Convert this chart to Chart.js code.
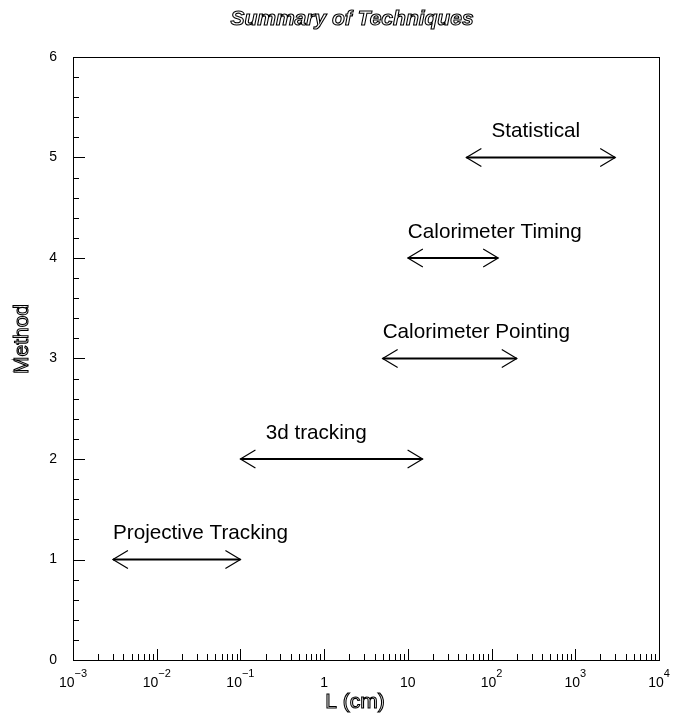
<!DOCTYPE html>
<html>
<head>
<meta charset="utf-8">
<script src="https://cdn.jsdelivr.net/npm/chart.js@4.4.1/dist/chart.umd.min.js"></script>
<style>
  html, body { margin: 0; padding: 0; background: #fff; }
</style>
</head>
<body>
<canvas id="techniques" width="674" height="714"></canvas>
<script>
// data
const methods = ["Projective Tracking", "3d tracking", "Calorimeter Pointing", "Calorimeter Timing", "Statistical"];
const methodLevel = [1, 2, 3, 4, 5];
const rangeLow = [0.003, 0.1, 5, 10, 50];
const rangeHigh = [0.1, 15, 200, 120, 3000];
const labelStart = [0.003, 0.2, 5, 10, 100];

const xDecades = [-3, -2, -1, 0, 1, 2, 3, 4];
const yTicks = [0, 1, 2, 3, 4, 5, 6];

const datasets = methods.map(function (name, i) {
    return {
        label: name,
        data: [{ x: rangeLow[i], y: methodLevel[i] }, { x: rangeHigh[i], y: methodLevel[i] }],
        showLine: true,
        borderColor: "#000",
        borderWidth: 2,
        pointRadius: 0
    };
});

function hollowText(ctx, txt, x, y) {
    ctx.fillStyle = "#fff";
    ctx.fillText(txt, x, y);
    ctx.strokeStyle = "#000";
    ctx.lineWidth = 1.1;
    ctx.strokeText(txt, x, y);
}

const rootStyle = {
    id: "rootStyle",
    afterDraw: function (chart) {
        const ctx = chart.ctx;
        const a = chart.chartArea;
        const xs = chart.scales.x;
        const ys = chart.scales.y;
        ctx.save();

        // frame
        ctx.strokeStyle = "#000";
        ctx.lineWidth = 1;
        ctx.strokeRect(Math.round(a.left) + 0.5, Math.round(a.top) + 0.5,
            Math.round(a.right - a.left), Math.round(a.bottom - a.top));

        // y ticks, inward
        ctx.beginPath();
        for (let v = 0; v <= 6.001; v += 0.2) {
            const py = Math.round(ys.getPixelForValue(v)) + 0.5;
            const major = Math.abs(v - Math.round(v)) < 0.01;
            ctx.moveTo(a.left, py);
            ctx.lineTo(a.left + (major ? 12 : 6), py);
        }
        // x ticks, inward
        for (let d = -3; d < 4; d++) {
            for (let m = 1; m <= 9; m++) {
                const px = Math.round(xs.getPixelForValue(m * Math.pow(10, d))) + 0.5;
                ctx.moveTo(px, a.bottom);
                ctx.lineTo(px, a.bottom - (m === 1 ? 11 : 6));
            }
        }
        ctx.moveTo(Math.round(a.right) + 0.5, a.bottom);
        ctx.lineTo(Math.round(a.right) + 0.5, a.bottom - 11);
        ctx.stroke();

        // y tick labels
        ctx.fillStyle = "#000";
        ctx.font = "14px 'Liberation Sans', Arial, sans-serif";
        ctx.textAlign = "right";
        ctx.textBaseline = "middle";
        yTicks.forEach(function (v) {
            ctx.fillText(String(v), a.left - 16, ys.getPixelForValue(v));
        });

        // x tick labels
        ctx.textBaseline = "alphabetic";
        xDecades.forEach(function (e) {
            const px = xs.getPixelForValue(Math.pow(10, e));
            ctx.font = "14px 'Liberation Sans', Arial, sans-serif";
            if (e === 0 || e === 1) {
                ctx.textAlign = "center";
                ctx.fillText(e === 0 ? "1" : "10", px, a.bottom + 27);
                return;
            }
            const sup = e < 0 ? "\u2212" + (-e) : String(e);
            const wBase = ctx.measureText("10").width;
            ctx.font = "11px 'Liberation Sans', Arial, sans-serif";
            const wSup = ctx.measureText(sup).width;
            const x0 = px - (wBase + wSup) / 2;
            ctx.textAlign = "left";
            ctx.fillText(sup, x0 + wBase, a.bottom + 17);
            ctx.font = "14px 'Liberation Sans', Arial, sans-serif";
            ctx.fillText("10", x0, a.bottom + 27);
        });

        // arrow heads
        ctx.lineWidth = 1.2;
        ctx.beginPath();
        methods.forEach(function (name, i) {
            const py = ys.getPixelForValue(methodLevel[i]);
            const x1 = xs.getPixelForValue(rangeLow[i]);
            const x2 = xs.getPixelForValue(rangeHigh[i]);
            ctx.moveTo(x1 + 15, py - 9); ctx.lineTo(x1, py); ctx.lineTo(x1 + 15, py + 9);
            ctx.moveTo(x2 - 15, py - 9); ctx.lineTo(x2, py); ctx.lineTo(x2 - 15, py + 9);
        });
        ctx.stroke();

        // method labels
        ctx.font = "20.7px 'Liberation Sans', Arial, sans-serif";
        ctx.textAlign = "left";
        ctx.textBaseline = "alphabetic";
        methods.forEach(function (name, i) {
            ctx.fillText(name, xs.getPixelForValue(labelStart[i]), ys.getPixelForValue(methodLevel[i] + 0.2));
        });

        // title and axis titles (hollow)
        ctx.textAlign = "center";
        ctx.font = "italic bold 21px 'Liberation Sans', Arial, sans-serif";
        hollowText(ctx, "Summary of Techniques", 352, 25);
        ctx.font = "21px 'Liberation Sans', Arial, sans-serif";
        hollowText(ctx, "L (cm)", 355, 708);
        ctx.translate(28, 339);
        ctx.rotate(-Math.PI / 2);
        hollowText(ctx, "Method", 0, 0);
        ctx.restore();
    }
};

new Chart("techniques", {
    type: "scatter",
    data: { datasets: datasets },
    options: {
        responsive: false,
        animation: false,
        layout: { padding: { left: 73, right: 15, top: 57, bottom: 54 } },
        plugins: {
            legend: { display: false },
            title: { display: false },
            tooltip: { enabled: false }
        },
        scales: {
            x: { type: "logarithmic", min: 0.001, max: 10000, display: false },
            y: { type: "linear", min: 0, max: 6, display: false }
        }
    },
    plugins: [rootStyle]
});
</script>
</body>
</html>
